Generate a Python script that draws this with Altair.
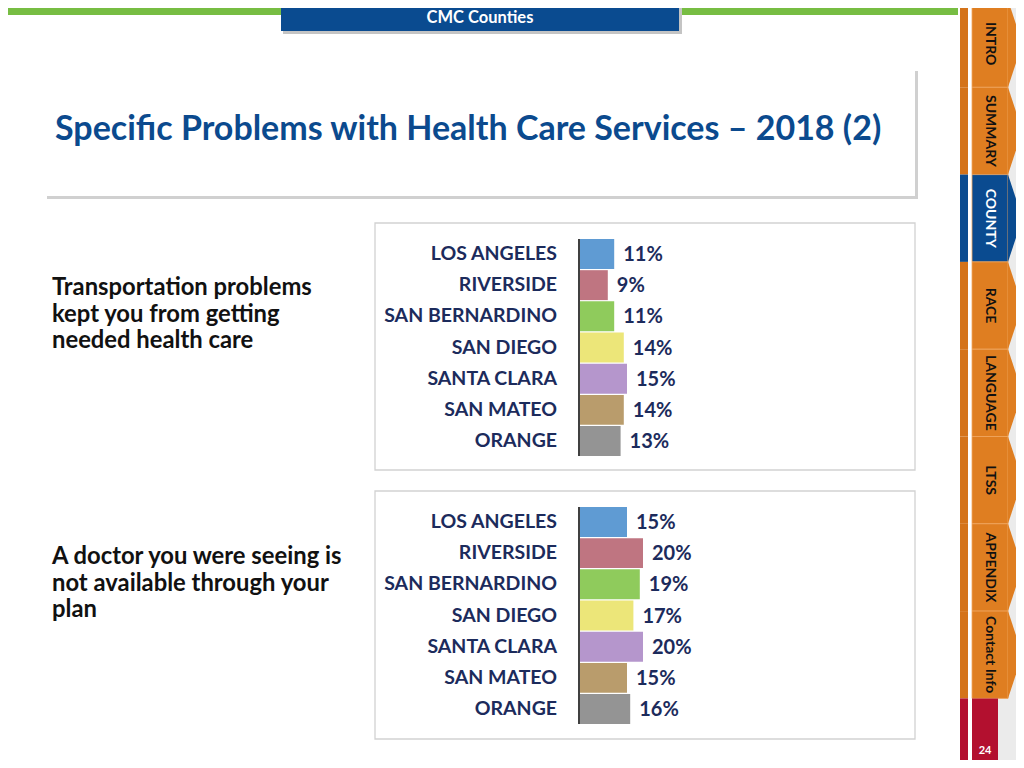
import altair as alt
import pandas as pd

# ---------------- data ----------------
counties = ["LOS ANGELES", "RIVERSIDE", "SAN BERNARDINO", "SAN DIEGO",
            "SANTA CLARA", "SAN MATEO", "ORANGE"]
transport_pct = [11, 9, 11, 14, 15, 14, 13]
doctor_pct = [15, 20, 19, 17, 20, 15, 16]
bar_colors = ["#5f9bd3", "#bf7581", "#8fcb5c", "#ece679", "#b596cc", "#b99c6c", "#949494"]
question_1 = ["Transportation problems", "kept you from getting", "needed health care"]
question_2 = ["A doctor you were seeing is", "not available through your", "plan"]
tabs = ["INTRO", "SUMMARY", "COUNTY", "RACE", "LANGUAGE", "LTSS", "APPENDIX", "Contact Info"]
active_tab = "COUNTY"
title = "Specific Problems with Health Care Services \u2013 2018 (2)"
header = "CMC Counties"
page_no = "24"

# ---------------- layout helpers ----------------
M = 8                      # page margin of the html body
W, H = 1024 - 2 * M, 768 - 2 * M
FONT = "Lato"
NAVY = "#1c2b5c"
ORANGE = "#df7e21"
BLUE = "#0a4b90"


def px(x):
    return x - M


def py(y):
    return y - M


rects = []


def rect(x1, y1, x2, y2, fill, stroke=None, sw=0):
    rects.append(dict(x=px(x1), x2=px(x2), y=py(y1), y2=py(y2), fill=fill,
                      stroke=stroke or fill, sw=sw))


# header
rect(0, 0, 958, 15, "#77bd43")
rect(283, 2, 682, 34, "#c4c4c4")
rect(281, 0, 679, 31, BLUE)
# title box
rect(47, 71, 918, 199, "#d0d0d0")
rect(45, 68, 915, 196, "white")
# panel boxes
rect(375, 223, 915, 470, "white", "#d2d2d2", 1.3)
rect(375, 491, 915, 739, "white", "#d2d2d2", 1.3)
# right navigation
rect(998, 0, 1030, 776, "#ebebeb")
tab_top, tab_h = 0, 87.3
tab_rows = []
for i, t in enumerate(tabs):
    y1 = tab_top + i * tab_h
    y2 = y1 + tab_h
    col = BLUE if t == active_tab else ORANGE
    strip = BLUE if t == active_tab else "#d4731a"
    rect(960, y1, 968, y2, strip)
    rect(972, y1, 1008, y2, col, "#f0a65e", 0.8)
    tab_rows.append(dict(x=px(1008), y=py((y1 + y2) / 2), size=tab_h ** 2, fill=col,
                         text=t, tx=px(990),
                         tcolor="white" if t == active_tab else "#111111"))
red_top = tab_top + len(tabs) * tab_h
rect(960, red_top, 968, 776, "#b3102f")
rect(972, red_top, 998, 776, "#b3102f")

rect_df = pd.DataFrame(rects)
deco = alt.Chart(rect_df).mark_rect().encode(
    x=alt.X("x:Q", scale=None), x2="x2", y=alt.Y("y:Q", scale=None), y2="y2",
    fill=alt.Fill("fill:N", scale=None), stroke=alt.Stroke("stroke:N", scale=None),
    strokeWidth=alt.StrokeWidth("sw:Q", scale=None),
)

tab_df = pd.DataFrame(tab_rows)
chevrons = alt.Chart(tab_df).mark_point(
    shape="M0,-1L0.33,0L0,1Z", filled=True, opacity=1, strokeWidth=0
).encode(
    x=alt.X("x:Q", scale=None), y=alt.Y("y:Q", scale=None),
    size=alt.Size("size:Q", scale=None), fill=alt.Fill("fill:N", scale=None),
)
tab_text = alt.Chart(tab_df).mark_text(
    font=FONT, fontWeight="bold", fontSize=14, angle=90, align="center", baseline="middle"
).encode(
    x=alt.X("tx:Q", scale=None), y=alt.Y("y:Q", scale=None), text="text:N",
    color=alt.Color("tcolor:N", scale=None),
)

one = pd.DataFrame({"k": [1]})
title_t = alt.Chart(one).mark_text(
    text=title, font=FONT, fontWeight="bold", fontSize=34, color="#0b4a8e",
    align="left", baseline="middle"
).encode(x=alt.value(px(55)), y=alt.value(py(130)))
header_t = alt.Chart(one).mark_text(
    text=header, font=FONT, fontWeight="bold", fontSize=16.5, color="white",
    align="center", baseline="middle"
).encode(x=alt.value(px(480)), y=alt.value(py(18)))
page_t = alt.Chart(one).mark_text(
    text=page_no, font=FONT, fontWeight="bold", fontSize=11, color="white",
    align="center", baseline="middle"
).encode(x=alt.value(px(985)), y=alt.value(py(751)))

q_rows = []
for lines, top in ((question_1, 288), (question_2, 557)):
    for j, line in enumerate(lines):
        q_rows.append(dict(text=line, y=py(top + j * 26.5), x=px(52)))
q_text = alt.Chart(pd.DataFrame(q_rows)).mark_text(
    font=FONT, fontWeight="bold", fontSize=23.8, color="#111111", align="left", baseline="middle"
).encode(x=alt.X("x:Q", scale=None), y=alt.Y("y:Q", scale=None), text="text:N")


def panel(values, y0, y1):
    df = pd.DataFrame({"county": counties, "value": values})
    base = alt.Chart(df).transform_calculate(label="datum.value + '%'")
    xs = alt.Scale(domain=[0, 100], range=[px(579), px(579) + 320])
    ys = alt.Scale(domain=counties, range=[py(y0), py(y1)], paddingInner=0.04, paddingOuter=0)
    y_enc = alt.Y("county:N", scale=ys, axis=None, sort=counties)
    bars = base.mark_bar().encode(
        x=alt.X("value:Q", scale=xs, axis=None), y=y_enc,
        color=alt.Color("county:N", scale=alt.Scale(domain=counties, range=bar_colors), legend=None),
    )
    names = base.mark_text(
        font=FONT, fontWeight="bold", fontSize=19.5, color=NAVY, align="right", baseline="middle"
    ).encode(x=alt.value(px(557)), y=y_enc, text="county:N")
    vals = base.mark_text(
        font=FONT, fontWeight="bold", fontSize=20, color=NAVY, align="left", baseline="middle", dx=9, dy=1
    ).encode(x=alt.X("value:Q", scale=xs, axis=None), y=y_enc, text="label:N")
    axis_line = alt.Chart(one).mark_rule(color="#404040", strokeWidth=2).encode(
        x=alt.value(px(579)), y=alt.value(py(y0)), y2=alt.value(py(y1)))
    return alt.layer(bars, axis_line, names, vals)


p1 = panel(transport_pct, 239, 456)
p2 = panel(doctor_pct, 507, 724)

chart = alt.layer(
    deco, chevrons, tab_text, title_t, header_t, page_t, q_text, p1, p2
).resolve_scale(
    x="independent", y="independent", color="independent"
).properties(
    width=W, height=H, autosize=alt.AutoSizeParams(type="none"), padding=0,
    background="white",
).configure_view(strokeWidth=0)

chart.save("out.html", embed_options={"renderer": "svg", "actions": False})
